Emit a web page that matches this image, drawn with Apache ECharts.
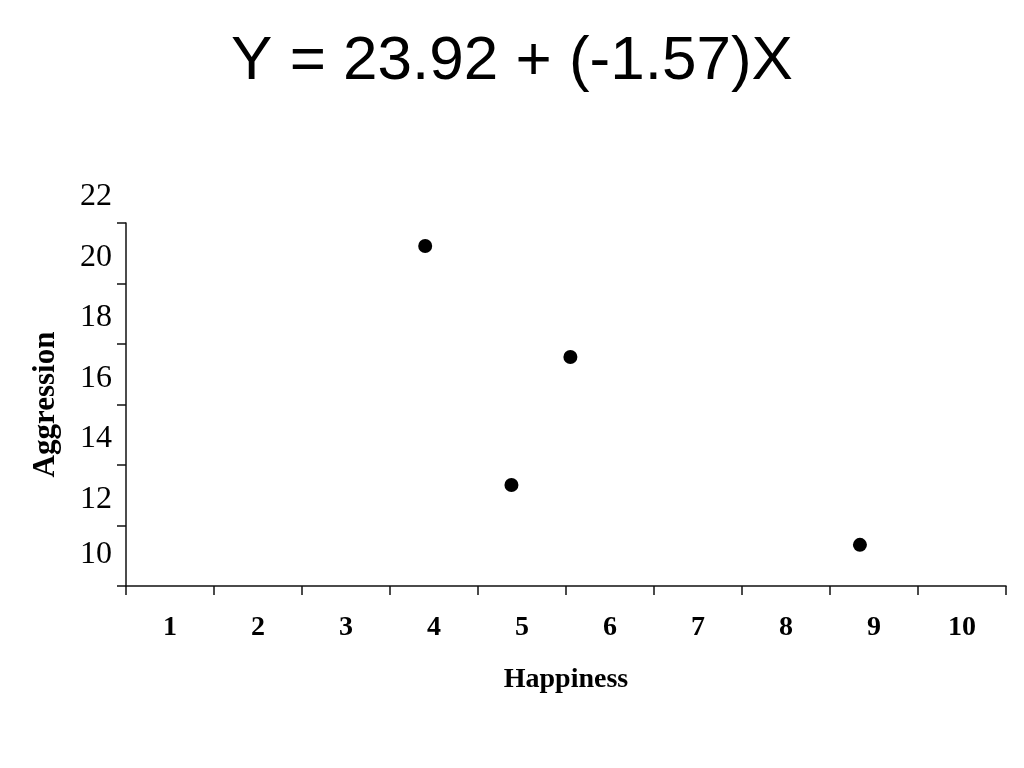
<!DOCTYPE html>
<html>
<head>
<meta charset="utf-8">
<script src="https://cdn.jsdelivr.net/npm/echarts@6/dist/echarts.min.js"></script>
<style>html,body{margin:0;padding:0;background:#fff}#c{width:1024px;height:768px}</style>
</head>
<body>
<div id="c"></div>
<script>
// Data
const titleText = 'Y = 23.92 + (-1.57)X';
const xCategories = ['1','2','3','4','5','6','7','8','9','10'];
const happiness = [3.90, 5.55, 4.88, 8.84];
const aggression = [20.24, 16.57, 12.34, 10.36];
const yTickValues = [9, 11, 13, 15, 17, 19, 21];
const yTickLabels = ['10', '12', '14', '16', '18', '20', '22'];

const points = happiness.map((x, i) => [x, aggression[i]]);
const chart = echarts.init(document.getElementById('c'));
const serif = '"Liberation Serif", "Times New Roman", serif';
const axisColor = '#111';

chart.setOption({
  backgroundColor: '#fff',
  animation: false,
  title: {
    text: titleText,
    left: 'center',
    top: 26,
    textStyle: { fontFamily: '"Liberation Sans", Arial, sans-serif', fontSize: 62, fontWeight: 'normal', color: '#000' }
  },
  grid: { left: 126, right: 18, top: 223, bottom: 182, containLabel: false },
  xAxis: [
    {
      type: 'category',
      data: xCategories,
      boundaryGap: true,
      position: 'bottom',
      axisLine: { show: true, lineStyle: { color: axisColor, width: 1.5 } },
      axisTick: { show: true, length: 9, inside: false, alignWithLabel: false, lineStyle: { color: axisColor, width: 1.5 } },
      axisLabel: { margin: 28, fontFamily: serif, fontSize: 28, fontWeight: 'bold', color: '#000' },
      splitLine: { show: false },
      name: 'Happiness',
      nameLocation: 'middle',
      nameGap: 80,
      nameTextStyle: { fontFamily: serif, fontSize: 28, fontWeight: 'bold', color: '#000' }
    },
    {
      type: 'value',
      min: 0.5,
      max: 10.5,
      show: false,
      splitLine: { show: false }
    }
  ],
  yAxis: [
    {
      type: 'value',
      min: 9,
      max: 21,
      interval: 2,
      axisLine: { show: true, lineStyle: { color: axisColor, width: 1.5 } },
      axisTick: { show: true, length: 9, lineStyle: { color: axisColor, width: 1.5 } },
      splitLine: { show: false },
      axisLabel: {
        margin: 14,
        showMinLabel: true,
        showMaxLabel: true,
        formatter: function (v) {
          const i = yTickValues.indexOf(v);
          const t = i >= 0 ? yTickLabels[i] : '';
          return i === 0 ? '{b|' + t + '}' : '{a|' + t + '}';
        },
        rich: {
          a: { fontFamily: serif, fontSize: 32, color: '#000', padding: [0, 0, 52, 0] },
          b: { fontFamily: serif, fontSize: 32, color: '#000', padding: [0, 0, 62, 0] }
        }
      },
      name: 'Aggression',
      nameLocation: 'middle',
      nameGap: 65,
      nameRotate: 90,
      nameTextStyle: { fontFamily: serif, fontSize: 31, fontWeight: 'bold', color: '#000' }
    }
  ],
  series: [
    {
      type: 'scatter',
      xAxisIndex: 1,
      yAxisIndex: 0,
      data: points,
      symbol: 'circle',
      symbolSize: 14,
      itemStyle: { color: '#000', opacity: 1 }
    }
  ]
});
</script>
</body>
</html>
